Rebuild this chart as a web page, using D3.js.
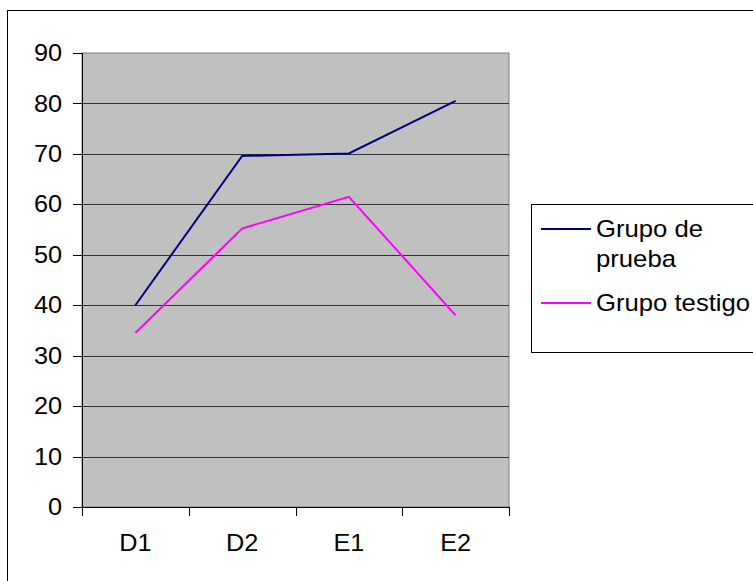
<!DOCTYPE html>
<html><head><meta charset="utf-8">
<script src="https://cdn.jsdelivr.net/npm/d3@7"></script>
<style>body{margin:0;background:#fff}svg{display:block}text{font-family:"Liberation Sans",Arial,sans-serif;fill:#000}</style>
</head><body>
<script>
const categories = ["D1","D2","E1","E2"];
const grupoPrueba = [40, 69.6, 70.1, 80.5];
const grupoTestigo = [34.5, 55.2, 61.5, 38];
const yTicks = [0,10,20,30,40,50,60,70,80,90];
const seriesNames = ["Grupo de prueba","Grupo testigo"];
const seriesColors = ["#000080","#ff00ff"];

const W=753,H=581, FS=23, SX=1.1, LFS=24, LSX=1.07;
const svg=d3.select("body").append("svg").attr("width",W).attr("height",H);
svg.append("rect").attr("x",7.5).attr("y",10.5).attr("width",W).attr("height",H).attr("fill","#fff").attr("stroke","#000").attr("stroke-width",1);

const L=82,R=509,T=53,B=507;
const x=d3.scaleBand().domain(categories).range([L,R]);
const y=d3.scaleLinear().domain([0,90]).range([B,T]);

svg.append("rect").attr("x",L).attr("y",T).attr("width",R-L).attr("height",B-T).attr("fill","#c0c0c0").attr("stroke","#808080");
svg.append("g").selectAll("line").data(yTicks.slice(1,-1)).join("line")
  .attr("x1",L).attr("x2",R).attr("y1",d=>Math.round(y(d))+0.5).attr("y2",d=>Math.round(y(d))+0.5)
  .attr("stroke","#333").attr("stroke-width",1.2);

// y axis
const ya=svg.append("g");
ya.append("line").attr("x1",L+0.5).attr("x2",L+0.5).attr("y1",T).attr("y2",B).attr("stroke","#000");
ya.selectAll("line.t").data(yTicks).join("line").attr("class","t")
  .attr("x1",L-9).attr("x2",L).attr("y1",d=>Math.round(y(d))+0.5).attr("y2",d=>Math.round(y(d))+0.5).attr("stroke","#000");
ya.selectAll("text").data(yTicks).join("text")
  .attr("transform",d=>`translate(${L-20},${y(d)}) scale(${SX},1)`)
  .attr("text-anchor","end").attr("dy","0.35em").attr("font-size",FS).text(d=>d);

// x axis
const xa=svg.append("g");
xa.append("line").attr("x1",L).attr("x2",R).attr("y1",B+0.5).attr("y2",B+0.5).attr("stroke","#000");
const xt=[...categories.map(c=>x(c)), R];
xa.selectAll("line.t").data(xt).join("line").attr("class","t")
  .attr("x1",d=>Math.round(d)+0.5).attr("x2",d=>Math.round(d)+0.5).attr("y1",B).attr("y2",B+9).attr("stroke","#000");
xa.selectAll("text").data(categories).join("text")
  .attr("transform",d=>`translate(${x(d)+x.bandwidth()/2},551) scale(${SX},1)`)
  .attr("text-anchor","middle").attr("font-size",FS).text(d=>d);

// lines
const line=d3.line().x((d,i)=>x(categories[i])+x.bandwidth()/2).y(d=>y(d));
[grupoPrueba,grupoTestigo].forEach((s,i)=>{
  svg.append("path").datum(s).attr("d",line).attr("fill","none").attr("stroke",seriesColors[i]).attr("stroke-width",2);
});

// legend
const lg=svg.append("g");
lg.append("rect").attr("x",531.5).attr("y",204.5).attr("width",300).attr("height",148).attr("fill","#fff").attr("stroke","#000");
const legendRows=[{y:229,lines:["Grupo de","prueba"]},{y:303,lines:["Grupo testigo"]}];
legendRows.forEach((r,i)=>{
  lg.append("line").attr("x1",541).attr("x2",591).attr("y1",r.y).attr("y2",r.y).attr("stroke",seriesColors[i]).attr("stroke-width",2);
  r.lines.forEach((t,j)=>{
    lg.append("text").attr("transform",`translate(596,${r.y+j*30}) scale(${LSX},1)`).attr("dy","0.35em").attr("font-size",LFS).text(t);
  });
});
</script>
</body></html>
